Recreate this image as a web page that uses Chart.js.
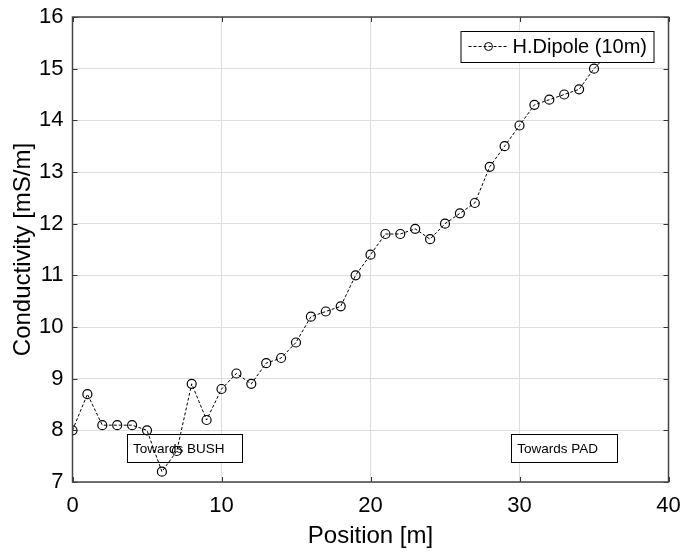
<!DOCTYPE html>
<html>
<head>
<meta charset="utf-8">
<script src="https://cdn.jsdelivr.net/npm/chart.js@4/dist/chart.umd.min.js"></script>
<style>
  html, body { margin: 0; padding: 0; background: #fff; }
  #wrap { width: 682px; height: 552px; }
</style>
</head>
<body>
<div id="wrap"><canvas id="cond"></canvas></div>
<script>
// ---- data ----
const positions    = [0, 1, 2, 3, 4, 5, 6, 7, 8, 9, 10, 11, 12, 13, 14, 15, 16, 17, 18, 19,
                      20, 21, 22, 23, 24, 25, 26, 27, 28, 29, 30, 31, 32, 33, 34, 35, 36];
const conductivity = [8.0, 8.7, 8.1, 8.1, 8.1, 8.0, 7.2, 7.6, 8.9, 8.2, 8.8, 9.1, 8.9, 9.3, 9.4, 9.7, 10.2, 10.3, 10.4, 11.0,
                      11.4, 11.8, 11.8, 11.9, 11.7, 12.0, 12.2, 12.4, 13.1, 13.5, 13.9, 14.3, 14.4, 14.5, 14.6, 15.0, 15.3];
const xTicks = [0, 10, 20, 30, 40];
const yTicks = [7, 8, 9, 10, 11, 12, 13, 14, 15, 16];
const seriesLabel = 'H.Dipole (10m)';
const noteLabels = ['Towards BUSH', 'Towards PAD'];
const noteX = [[3.65, 11.4], [29.45, 36.55]];   // box extents in data units
const noteY = [7.93, 7.39];

const FONT = "'Liberation Sans', Arial, Helvetica, sans-serif";
const GRID = '#dedede';

// text boxes inside the axes, drawn under the line
const notesPlugin = {
  id: 'notes',
  beforeDatasetsDraw(chart) {
    const { ctx, scales: { x, y } } = chart;
    ctx.save();
    noteLabels.forEach((txt, i) => {
      const x0 = x.getPixelForValue(noteX[i][0]), x1 = x.getPixelForValue(noteX[i][1]);
      const y0 = y.getPixelForValue(noteY[0]), y1 = y.getPixelForValue(noteY[1]);
      ctx.fillStyle = '#fff';
      ctx.fillRect(x0, y0, x1 - x0, y1 - y0);
      ctx.strokeStyle = '#000'; ctx.lineWidth = 1;
      ctx.strokeRect(Math.round(x0) + 0.5, Math.round(y0) + 0.5, Math.round(x1 - x0), Math.round(y1 - y0));
      ctx.fillStyle = '#000';
      ctx.font = '13.5px ' + FONT;
      ctx.textAlign = 'left'; ctx.textBaseline = 'middle';
      ctx.fillText(txt, x0 + 6, (y0 + y1) / 2 + 1);
    });
    ctx.restore();
  },
};

// frame, inward ticks and the boxed legend
const framePlugin = {
  id: 'frame',
  afterDatasetsDraw(chart) {
    const { ctx, chartArea: a, scales: { x, y } } = chart;
    ctx.save();
    ctx.strokeStyle = '#333'; ctx.lineWidth = 1;
    ctx.beginPath();
    xTicks.forEach(v => {
      const px = Math.round(x.getPixelForValue(v)) + 0.5;
      ctx.moveTo(px, a.bottom); ctx.lineTo(px, a.bottom - 5);
      ctx.moveTo(px, a.top); ctx.lineTo(px, a.top + 5);
    });
    yTicks.forEach(v => {
      const py = Math.round(y.getPixelForValue(v)) + 0.5;
      ctx.moveTo(a.left, py); ctx.lineTo(a.left + 5, py);
      ctx.moveTo(a.right, py); ctx.lineTo(a.right - 5, py);
    });
    ctx.stroke();
    ctx.lineWidth = 1.5; ctx.strokeStyle = '#444';
    ctx.strokeRect(a.left, a.top, a.right - a.left, a.bottom - a.top);

    // legend box
    const lx0 = a.right - 208, lx1 = a.right - 15, ly0 = a.top + 14, ly1 = a.top + 45;
    ctx.fillStyle = '#fff';
    ctx.fillRect(lx0, ly0, lx1 - lx0, ly1 - ly0);
    ctx.lineWidth = 1; ctx.strokeStyle = '#000';
    ctx.strokeRect(lx0 + 0.5, ly0 + 0.5, lx1 - lx0, ly1 - ly0);
    const cy = (ly0 + ly1) / 2;
    ctx.setLineDash([3, 2]);
    ctx.beginPath(); ctx.moveTo(lx0 + 8, cy); ctx.lineTo(lx0 + 46, cy); ctx.stroke();
    ctx.setLineDash([]);
    ctx.beginPath(); ctx.arc(lx0 + 28, cy, 4, 0, Math.PI * 2); ctx.stroke();
    ctx.fillStyle = '#000';
    ctx.font = '20px ' + FONT;
    ctx.textAlign = 'left'; ctx.textBaseline = 'middle';
    ctx.fillText(seriesLabel, lx0 + 52, cy + 1);
    ctx.restore();
  },
};

new Chart(document.getElementById('cond'), {
  type: 'scatter',
  data: {
    datasets: [{
      label: seriesLabel,
      data: positions.map((p, i) => ({ x: p, y: conductivity[i] })),
      showLine: true,
      borderColor: '#000', borderWidth: 1, borderDash: [3, 2],
      pointStyle: 'circle', pointRadius: 4.5, pointBorderWidth: 1.2,
      pointBorderColor: '#000', pointBackgroundColor: 'rgba(0,0,0,0)',
      tension: 0,
    }],
  },
  options: {
    responsive: true, maintainAspectRatio: false, animation: false,
    layout: { padding: { top: 17, right: 13.5, left: 0, bottom: 0 } },
    plugins: { legend: { display: false }, tooltip: { enabled: false } },
    scales: {
      x: {
        type: 'linear', min: 0, max: 40,
        afterFit: s => { s.height = 70; s.paddingLeft = 0; s.paddingRight = 0; },
        afterBuildTicks: s => { s.ticks = xTicks.map(v => ({ value: v })); },
        ticks: { color: '#000', padding: 11, font: { family: FONT, size: 22 } },
        grid: { color: GRID, drawTicks: false },
        border: { display: false },
        title: { display: true, text: 'Position [m]', color: '#000', padding: { top: 1, bottom: 1 },
                 font: { family: FONT, size: 24 } },
      },
      y: {
        type: 'linear', min: 7, max: 16,
        afterFit: s => { s.width = 72.5; s.paddingTop = 0; s.paddingBottom = 0; },
        afterBuildTicks: s => { s.ticks = yTicks.map(v => ({ value: v })); },
        ticks: { color: '#000', padding: 9, font: { family: FONT, size: 22 } },
        grid: { color: GRID, drawTicks: false },
        border: { display: false },
        title: { display: true, text: 'Conductivity [mS/m]', color: '#000', padding: { top: 9, bottom: 9 },
                 font: { family: FONT, size: 24 } },
      },
    },
  },
  plugins: [notesPlugin, framePlugin],
});
</script>
</body>
</html>
